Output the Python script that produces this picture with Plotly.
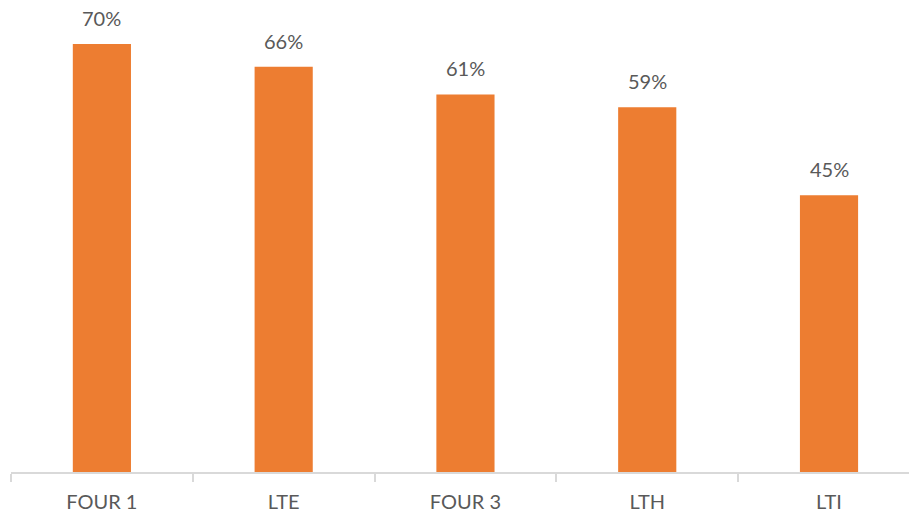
import plotly.graph_objects as go

categories = ["FOUR 1", "LTE", "FOUR 3", "LTH", "LTI"]
values = [69.6, 65.9, 61.4, 59.3, 45.0]
labels = ["70%", "66%", "61%", "59%", "45%"]

fig = go.Figure()
fig.add_trace(go.Bar(
    x=categories, y=values,
    marker=dict(color="#ED7D31", line=dict(width=0)),
    width=0.32,
    hoverinfo="skip",
))
for c, v, t in zip(categories, values, labels):
    fig.add_annotation(x=c, y=v, text=t, showarrow=False, yanchor="bottom",
                       yshift=12, font=dict(family="Lato", size=20, color="#595959"))

fig.update_layout(
    width=909, height=519,
    margin=dict(l=11, r=0, t=0, b=47),
    paper_bgcolor="white", plot_bgcolor="white",
    showlegend=False,
    xaxis=dict(
        range=[-0.5, 4.44],
        showline=True, linecolor="#d9d9d9", linewidth=2,
        ticks="outside", tickson="boundaries", ticklen=8, tickcolor="#d9d9d9", tickwidth=2,
        ticklabelstandoff=11,
        tickfont=dict(family="Lato", size=20, color="#595959"),
        showgrid=False, zeroline=False, fixedrange=True,
    ),
    yaxis=dict(range=[0, 76.75], visible=False, showgrid=False, zeroline=False),
)
fig.write_html("out.html")
